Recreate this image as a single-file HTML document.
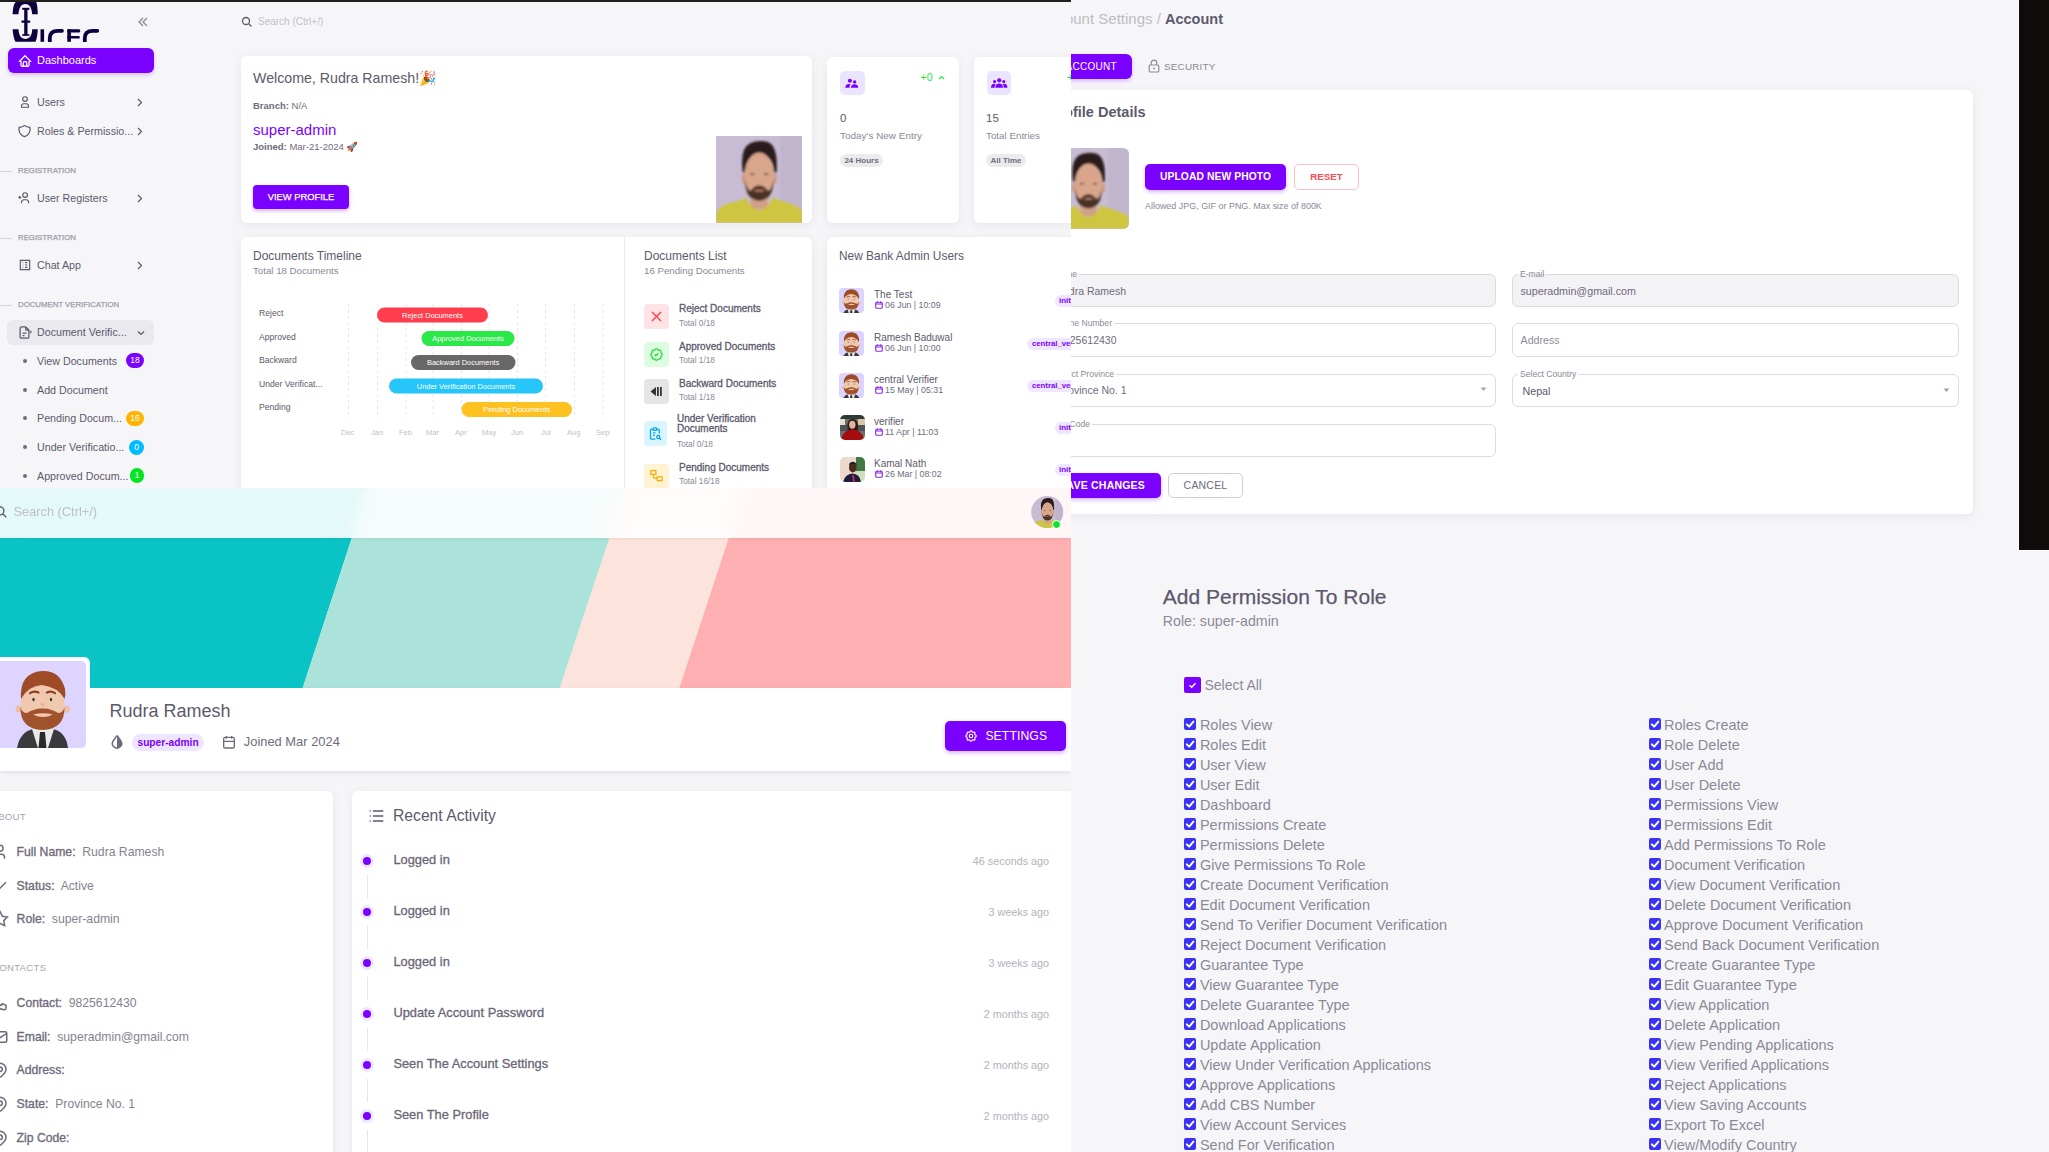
<!DOCTYPE html>
<html><head><meta charset="utf-8">
<style>
*{box-sizing:border-box;margin:0;padding:0}
html,body{width:2049px;height:1152px;overflow:hidden;background:#f6f6f9;font-family:"Liberation Sans",sans-serif;color:#6f6b7d}
.p{position:absolute;overflow:hidden}
.a{position:absolute;white-space:nowrap}
.card{position:absolute;background:#fff;border-radius:6px;box-shadow:0 2px 10px rgba(75,70,92,.085)}
#tl{left:0;top:0;width:1071px;height:488px;background:#f6f6f9}
#tr{left:1071px;top:0;width:978px;height:551px;background:#f6f6f9}
#bl{left:0;top:488px;width:1071px;height:664px;background:#f6f6f9}
#br{left:1071px;top:551px;width:978px;height:601px;background:#f6f6f9}
.purple{background:#7a00ff}
</style></head><body>
<svg width="0" height="0" style="position:absolute"><defs>
  <symbol id="av3d" viewBox="0 0 25 25">
    <rect width="25" height="25" rx="4" fill="#ddd3ff"/>
    <svg x="0" y="0" width="25" height="25" viewBox="0 0 25 25"><use href="#av3dbig" x="-2.6" y="-2.2" width="30" height="30"/></svg>
  </symbol>
  <filter id="pblur2" x="-10%" y="-10%" width="120%" height="120%"><feGaussianBlur stdDeviation="0.4"/></filter>
  <filter id="pblur" x="-10%" y="-10%" width="120%" height="120%"><feGaussianBlur stdDeviation="1.4"/></filter>
  <symbol id="photo" viewBox="0 0 100 100" preserveAspectRatio="none">
    <rect width="100" height="100" fill="#c8bcd5"/>
    <g filter="url(#pblur)">
    <rect x="74" width="26" height="100" fill="#bcafca" opacity=".6"/>
    <path d="M31 42 Q27 14 40 8 Q50 4 60 7 Q72 12 70 42 L67 42 Q66 22 50 21 Q35 22 34 42z" fill="#2a1f1b"/>
    <ellipse cx="32.5" cy="49" rx="2.8" ry="6" fill="#cf9a80"/>
    <ellipse cx="67.5" cy="49" rx="2.8" ry="6" fill="#cf9a80"/>
    <path d="M40 64 L40 84 L60 84 L60 64z" fill="#d2a086"/>
    <ellipse cx="50" cy="46" rx="17" ry="27" fill="#d9a68b"/>
    <path d="M33.5 50 Q34 70 44 73 Q50 76 56 73 Q66 70 66.5 50 Q64 62 60 63 Q56 57 50 57 Q44 57 40 63 Q36 62 33.5 50z" fill="#4b3328"/>
    <path d="M43 63 Q50 60 57 63 Q50 65 43 63z" fill="#b88068"/>
    <ellipse cx="42" cy="44" rx="3" ry="1.2" fill="#6d5b52"/>
    <ellipse cx="58" cy="44" rx="3" ry="1.2" fill="#6d5b52"/>
    <path d="M0 100 L0 90 Q3 80 16 77 Q30 74 35 71 Q40 84 50 85 Q60 84 65 71 Q72 73 84 77 Q97 81 100 86 L100 100z" fill="#cec53f"/>
    </g>
  </symbol>
  <symbol id="av3dbig" viewBox="0 0 86 87">
    <path d="M17 87 Q20 71 33 68 L53 68 Q66 71 68 87z" fill="#3a3a3d"/>
    <path d="M32 68 L38 87 L48 87 L54 68z" fill="#e9e9ea"/>
    <path d="M40 71 L38.5 87 L46.5 87 L45 71z" fill="#2a2a2c"/>
    <ellipse cx="18.5" cy="48" rx="3" ry="3.5" fill="#edbfa4"/>
    <ellipse cx="67" cy="48" rx="3" ry="3.5" fill="#edbfa4"/>
    <ellipse cx="42.5" cy="44" rx="22" ry="24" fill="#f0c8ae"/>
    <path d="M20.5 46 Q20 68 42.5 69 Q65 68 64.5 46 Q63 52 58 52 Q50 47 42.5 47.5 Q35 47 27 52 Q22 52 20.5 46z" fill="#a0522d"/>
    <path d="M33 53.5 Q43 51 53 53.5 Q43 58.5 33 53.5z" fill="#f3c7b0"/>
    <path d="M21 38 Q19 12 42 10 Q60 9 65 28 Q66 34 64.5 38 Q58 26 42 24 Q28 25 21 38z" fill="#9e4c27"/>
    <path d="M30 32 Q34 29.5 38.5 31.5 M47 31.5 Q51 29.5 55 32" fill="none" stroke="#8c4020" stroke-width="2.2" stroke-linecap="round"/>
    <ellipse cx="33.5" cy="38.5" rx="1.1" ry="1.8" fill="#2b2b3a"/>
    <ellipse cx="51" cy="38.5" rx="1.1" ry="1.8" fill="#2b2b3a"/>
    <ellipse cx="42.5" cy="43.5" rx="2" ry="1.6" fill="#e6b196"/>
  </symbol>
</defs></svg>

<!-- ============ TOP LEFT: dashboard ============ -->
<div class="p" id="tl">
  <div class="a" style="left:0;top:0;width:1071px;height:2px;background:#1f1f1f"></div>
  <!-- sidebar -->
  <svg class="a" style="left:0;top:0" width="110" height="42" viewBox="0 0 110 42">
    <g fill="#0e003e">
      <path d="M12.6 14.2 C13 6 14.5 2.5 16 2 L36 2 C37 3 37.6 7 37.8 14.2 L32.2 14.2 C31.8 8 29.5 4.1 25.3 4.1 C21 4.1 18.9 8 18.5 14.2 Z"/>
      <path d="M12.6 29.3 L18.5 29.3 C18.8 35.5 21.3 39 25.3 39 C29.5 39 32 35.5 32.2 29.3 L37.8 29.3 C37.5 35 36.8 39 35.5 41.8 L15.5 41.8 C14 39 13 35 12.6 29.3 Z"/>
      <rect x="24.2" y="8.2" width="3.3" height="27"/>
      <rect x="22.2" y="7.8" width="7.2" height="2"/>
      <rect x="21.3" y="20.6" width="9" height="2.2" rx="1"/>
      <rect x="22.2" y="34.2" width="7.2" height="1.6"/>
      <rect x="40.5" y="29.3" width="3.6" height="12.5"/>
    </g>
    <g fill="none" stroke="#0e003e" stroke-width="3.8" stroke-linecap="round">
      <path d="M62 30.8 L58 30.8 C52 30.8 49.8 34 49.8 38 L49.8 43"/>
      <path d="M97.3 30.8 L93 30.8 C87 30.8 84.8 34 84.8 38 L84.8 43"/>
    </g>
    <g fill="#0e003e">
      <rect x="67.3" y="29.3" width="3.6" height="12.5"/>
      <rect x="67.3" y="29.3" width="12.9" height="3.2" rx="1.3"/>
      <rect x="67.3" y="36.1" width="12.5" height="2.5" rx="1.2"/>
    </g>
  </svg>
  <svg class="a" style="left:137px;top:17px" width="12" height="10" viewBox="0 0 12 10"><path d="M6 1 L2 5 L6 9 M10 1 L6 5 L10 9" fill="none" stroke="#8b8997" stroke-width="1.3"/></svg>

  <div class="a purple" style="left:8px;top:48px;width:146px;height:25px;border-radius:6px;box-shadow:0 2px 4px rgba(122,0,255,.25)"></div>
  <svg class="a" style="left:18px;top:54px" width="14" height="14" viewBox="0 0 24 24"><path d="M5 12H3l9-9 9 9h-2M5 12v7a2 2 0 0 0 2 2h10a2 2 0 0 0 2-2v-7M9 21v-6a2 2 0 0 1 2-2h2a2 2 0 0 1 2 2v6" fill="none" stroke="#fff" stroke-width="2.2"/></svg>
  <div class="a" style="left:37px;top:50px;line-height:20px;font-size:11px;color:#fff">Dashboards</div>

  <svg class="a" style="left:18px;top:95px" width="14" height="14" viewBox="0 0 24 24"><path d="M8 7a4 4 0 1 0 8 0a4 4 0 0 0-8 0M6 21v-2a4 4 0 0 1 4-4h4a4 4 0 0 1 4 4v2z" fill="none" stroke="#5d596c" stroke-width="2"/></svg>
  <div class="a" style="left:37px;top:92px;line-height:20px;font-size:10.7px;color:#5d596c">Users</div>
  <svg class="a" style="left:137px;top:98px" width="6" height="9" viewBox="0 0 6 9"><path d="M1 1l3.5 3.5L1 8" fill="none" stroke="#5d596c" stroke-width="1.2"/></svg>

  <svg class="a" style="left:17px;top:123px" width="15" height="16" viewBox="0 0 24 24"><path d="M12 3a12 12 0 0 0 8.5 3A12 12 0 0 1 12 21A12 12 0 0 1 3.5 6A12 12 0 0 0 12 3" fill="none" stroke="#5d596c" stroke-width="2"/></svg>
  <div class="a" style="left:37px;top:121px;line-height:20px;font-size:10.7px;color:#5d596c">Roles &amp; Permissio...</div>
  <svg class="a" style="left:137px;top:127px" width="6" height="9" viewBox="0 0 6 9"><path d="M1 1l3.5 3.5L1 8" fill="none" stroke="#5d596c" stroke-width="1.2"/></svg>

  <div class="a" style="left:0;top:171px;width:12px;height:1px;background:#d6d5da"></div>
  <div class="a" style="left:18px;top:164px;line-height:14px;font-size:7.8px;color:#9e9ca8;-webkit-text-stroke:.25px #9e9ca8">REGISTRATION</div>

  <svg class="a" style="left:17px;top:191px" width="15" height="14" viewBox="0 0 24 24"><path d="M9 7a4 4 0 1 0 8 0a4 4 0 0 0-8 0M7 21v-2a4 4 0 0 1 4-4h4a4 4 0 0 1 4 4v2M1.5 11h5M4 8.5v5" fill="none" stroke="#5d596c" stroke-width="2"/></svg>
  <div class="a" style="left:37px;top:188px;line-height:20px;font-size:10.7px;color:#5d596c">User Registers</div>
  <svg class="a" style="left:137px;top:194px" width="6" height="9" viewBox="0 0 6 9"><path d="M1 1l3.5 3.5L1 8" fill="none" stroke="#5d596c" stroke-width="1.2"/></svg>

  <div class="a" style="left:0;top:238px;width:12px;height:1px;background:#d6d5da"></div>
  <div class="a" style="left:18px;top:231px;line-height:14px;font-size:7.8px;color:#9e9ca8;-webkit-text-stroke:.25px #9e9ca8">REGISTRATION</div>

  <svg class="a" style="left:18px;top:258px" width="14" height="14" viewBox="0 0 24 24"><path d="M4 4h16v16H4zM8 8h1M8 12h1M8 16h1M12 8h4M12 12h4M12 16h4" fill="none" stroke="#5d596c" stroke-width="2"/></svg>
  <div class="a" style="left:37px;top:255px;line-height:20px;font-size:10.7px;color:#5d596c">Chat App</div>
  <svg class="a" style="left:137px;top:261px" width="6" height="9" viewBox="0 0 6 9"><path d="M1 1l3.5 3.5L1 8" fill="none" stroke="#5d596c" stroke-width="1.2"/></svg>

  <div class="a" style="left:0;top:305px;width:12px;height:1px;background:#d6d5da"></div>
  <div class="a" style="left:18px;top:298px;line-height:14px;font-size:7.8px;color:#9e9ca8;-webkit-text-stroke:.25px #9e9ca8">DOCUMENT VERIFICATION</div>

  <div class="a" style="left:7px;top:320px;width:147px;height:25px;border-radius:6px;background:#eae9ee"></div>
  <svg class="a" style="left:16.5px;top:325px" width="15" height="15" viewBox="0 0 24 24"><path d="M14 3v4a1 1 0 0 0 1 1h4M17 21H7a2 2 0 0 1-2-2V5a2 2 0 0 1 2-2h7l5 5v11a2 2 0 0 1-2 2zM9 13h6M9 17h3M22 9v4" fill="none" stroke="#5d596c" stroke-width="2"/></svg>
  <div class="a" style="left:37px;top:322px;line-height:20px;font-size:10.7px;color:#5d596c">Document Verific...</div>
  <svg class="a" style="left:137px;top:330px" width="8" height="6" viewBox="0 0 8 6"><path d="M1 1.5l3 3 3-3" fill="none" stroke="#5d596c" stroke-width="1.2"/></svg>

  <div class="a" style="left:23px;top:359px;width:4px;height:4px;border-radius:2px;background:#6f6b7d"></div>
  <div class="a" style="left:37px;top:351px;line-height:20px;font-size:10.7px;color:#5d596c">View Documents</div>
  <div class="a" style="left:126px;top:353px;width:18px;height:15px;border-radius:8px;background:#7a00ff;color:#fff;font-size:8.5px;line-height:15px;text-align:center">18</div>

  <div class="a" style="left:23px;top:388px;width:4px;height:4px;border-radius:2px;background:#6f6b7d"></div>
  <div class="a" style="left:37px;top:380px;line-height:20px;font-size:10.7px;color:#5d596c">Add Document</div>

  <div class="a" style="left:23px;top:416px;width:4px;height:4px;border-radius:2px;background:#6f6b7d"></div>
  <div class="a" style="left:37px;top:408px;line-height:20px;font-size:10.7px;color:#5d596c">Pending Docum...</div>
  <div class="a" style="left:126px;top:411px;width:18px;height:15px;border-radius:8px;background:#ffb400;color:#fff;font-size:8.5px;line-height:15px;text-align:center">16</div>

  <div class="a" style="left:23px;top:445px;width:4px;height:4px;border-radius:2px;background:#6f6b7d"></div>
  <div class="a" style="left:37px;top:437px;line-height:20px;font-size:10.7px;color:#5d596c">Under Verificatio...</div>
  <div class="a" style="left:129px;top:440px;width:15px;height:15px;border-radius:8px;background:#00bbff;color:#fff;font-size:8.5px;line-height:15px;text-align:center">0</div>

  <div class="a" style="left:23px;top:474px;width:4px;height:4px;border-radius:2px;background:#6f6b7d"></div>
  <div class="a" style="left:37px;top:466px;line-height:20px;font-size:10.7px;color:#5d596c">Approved Docum...</div>
  <div class="a" style="left:130px;top:468px;width:14px;height:15px;border-radius:8px;background:#00e620;color:#fff;font-size:8.5px;line-height:15px;text-align:center">1</div>

  <!-- navbar search -->
  <svg class="a" style="left:241px;top:16px" width="12" height="12" viewBox="0 0 24 24"><path d="M3 10a7 7 0 1 0 14 0a7 7 0 1 0-14 0M21 21l-6-6" fill="none" stroke="#5d596c" stroke-width="2.6"/></svg>
  <div class="a" style="left:258px;top:13px;line-height:18px;font-size:10px;color:#c3c1ca">Search (Ctrl+/)</div>

  <!-- welcome card -->
  <div class="card" style="left:241px;top:56px;width:571px;height:167px"></div>
  <div class="a" style="left:253px;top:68px;line-height:20px;font-size:14.2px;color:#5d596c">Welcome, Rudra Ramesh!🎉</div>
  <div class="a" style="left:253px;top:99px;line-height:14px;font-size:9.5px;color:#6f6b7d"><b>Branch:</b> N/A</div>
  <div class="a" style="left:253px;top:120px;line-height:20px;font-size:15px;color:#7a00ff">super-admin</div>
  <div class="a" style="left:253px;top:140px;line-height:14px;font-size:9.5px;color:#6f6b7d"><b>Joined:</b> Mar-21-2024 🚀</div>
  <div class="a purple" style="left:253px;top:185px;width:96px;height:24px;border-radius:4px;box-shadow:0 2px 4px rgba(122,0,255,.3);color:#fff;font-size:9.4px;line-height:24px;text-align:center;-webkit-text-stroke:.25px #fff">VIEW PROFILE</div>
  <svg class="a" style="left:715.5px;top:135.5px" width="86.5" height="87" viewBox="0 0 86.5 87"><use href="#photo" width="86.5" height="87"/></svg>

  <!-- stat cards -->
  <div class="card" style="left:827px;top:57px;width:132px;height:166px"></div>
  <div class="a" style="left:840px;top:70.5px;width:24.5px;height:24.5px;border-radius:5px;background:#ebe4ff"></div>
  <svg class="a" style="left:840px;top:70.5px" width="24" height="24" viewBox="840 70.5 24 24"><g fill="#7a00ff"><circle cx="849.9" cy="80.3" r="2"/><circle cx="854.6" cy="81.4" r="1.7"/><path d="M845.3 87.3 Q845.3 83.5 849 83.5 L850.6 83.5 Q849.3 85 849.6 87.3z"/><path d="M850.9 87.3 Q851 83.7 854.6 83.7 Q858.2 83.7 858.2 87.3z"/></g></svg>
  <div class="a" style="left:920.5px;top:70px;line-height:14px;font-size:10.5px;color:#1ee83c">+0</div>
  <svg class="a" style="left:937.5px;top:74.5px" width="7" height="5" viewBox="0 0 7 5"><path d="M1 4L3.5 1.5 6 4" fill="none" stroke="#1ee83c" stroke-width="1.2"/></svg>
  <div class="a" style="left:840px;top:109px;line-height:18px;font-size:11.5px;color:#5d596c">0</div>
  <div class="a" style="left:840px;top:129px;line-height:14px;font-size:9.95px;color:#8b8997">Today's New Entry</div>
  <div class="a" style="left:840px;top:154px;width:43px;height:13px;border-radius:7px;background:#ebebee;color:#6f6b7d;font-size:8px;font-weight:bold;line-height:13px;text-align:center">24 Hours</div>

  <div class="card" style="left:974px;top:57px;width:132px;height:166px"></div>
  <div class="a" style="left:986.5px;top:70.5px;width:24.5px;height:24.5px;border-radius:5px;background:#ebe4ff"></div>
  <svg class="a" style="left:986.5px;top:70.5px" width="24" height="24" viewBox="0 0 24 24"><g fill="#7a00ff"><circle cx="12.2" cy="9.3" r="2.1"/><circle cx="7.6" cy="10.5" r="1.6"/><circle cx="16.8" cy="10.5" r="1.6"/><path d="M8.4 16.8 Q8.4 12.6 12.2 12.6 Q16 12.6 16 16.8z"/><path d="M4 16.8 Q4 12.8 7.3 12.8 Q8 12.8 8.6 13.1 Q7.6 14.5 7.6 16.8z"/><path d="M20.4 16.8 Q20.4 12.8 17.1 12.8 Q16.4 12.8 15.8 13.1 Q16.8 14.5 16.8 16.8z"/></g></svg>
  <div class="a" style="left:1067px;top:70px;line-height:14px;font-size:10.5px;color:#1ee83c">+0</div>
  <div class="a" style="left:986px;top:109px;line-height:18px;font-size:11.5px;color:#5d596c">15</div>
  <div class="a" style="left:986px;top:129px;line-height:14px;font-size:9.8px;color:#8b8997">Total Entries</div>
  <div class="a" style="left:986px;top:154px;width:40px;height:13px;border-radius:7px;background:#ebebee;color:#6f6b7d;font-size:8px;font-weight:bold;line-height:13px;text-align:center">All Time</div>

  <!-- timeline + list card -->
  <div class="card" style="left:241px;top:237px;width:571px;height:270px"></div>
  <div class="a" style="left:624px;top:237px;width:1px;height:260px;background:#ebeaed"></div>
  <div class="a" style="left:253px;top:248px;line-height:16px;font-size:12px;color:#5d596c">Documents Timeline</div>
  <div class="a" style="left:253px;top:264px;line-height:14px;font-size:9.7px;color:#8b8997">Total 18 Documents</div>

  <div class="a" style="left:644px;top:248px;line-height:16px;font-size:12px;color:#5d596c">Documents List</div>
  <div class="a" style="left:644px;top:264px;line-height:14px;font-size:9.7px;color:#8b8997">16 Pending Documents</div>

  <div class="card" style="left:827px;top:237px;width:300px;height:270px"></div>
  <div class="a" style="left:839px;top:248px;line-height:16px;font-size:11.9px;color:#5d596c">New Bank Admin Users</div>

  <!-- chart -->
  <div class="a" style="left:259px;top:306px;line-height:14px;font-size:8.6px;color:#5d596c">Reject</div>
  <div class="a" style="left:259px;top:330px;line-height:14px;font-size:8.6px;color:#5d596c">Approved</div>
  <div class="a" style="left:259px;top:353px;line-height:14px;font-size:8.6px;color:#5d596c">Backward</div>
  <div class="a" style="left:259px;top:377px;line-height:14px;font-size:8.6px;color:#5d596c">Under Verificat...</div>
  <div class="a" style="left:259px;top:400px;line-height:14px;font-size:8.6px;color:#5d596c">Pending</div>
  <svg class="a" style="left:340px;top:300px" width="280" height="125" viewBox="340 300 280 125">
    <g stroke="#e8e7eb" stroke-width="1" stroke-dasharray="3 3">
      <path d="M348.5 304V419M377.5 304V419M406 304V419M433 304V419M461.5 304V419M489 304V419M517.5 304V419M545.5 304V419M574.5 304V419M603 304V419"/>
    </g>
    <rect x="377" y="307.5" width="111" height="15" rx="7.5" fill="#ff3d4d"/>
    <rect x="421.5" y="331" width="93" height="15" rx="7.5" fill="#29e848"/>
    <rect x="411" y="355" width="104.5" height="15" rx="7.5" fill="#686868"/>
    <rect x="389" y="378.5" width="154" height="15" rx="7.5" fill="#26c5fa"/>
    <rect x="461.5" y="402" width="110.5" height="15" rx="7.5" fill="#fdc122"/>
    <g fill="#fff" font-family="Liberation Sans" font-size="7.45" text-anchor="middle">
      <text x="432.5" y="317.6">Reject Documents</text>
      <text x="468" y="341.1">Approved Documents</text>
      <text x="463.2" y="365.1">Backward Documents</text>
      <text x="466" y="388.6">Under Verification Documents</text>
      <text x="516.7" y="412.1">Pending Documents</text>
    </g>
  </svg>
  <div class="a" style="left:340px;top:426px;width:280px;height:14px;font-size:7.5px;color:#c2c0c8;line-height:14px">
    <span class="a" style="left:1px">Dec</span><span class="a" style="left:31px">Jan</span><span class="a" style="left:59px">Feb</span><span class="a" style="left:86px">Mar</span><span class="a" style="left:115px">Apr</span><span class="a" style="left:142px">May</span><span class="a" style="left:171px">Jun</span><span class="a" style="left:201px">Jul</span><span class="a" style="left:227px">Aug</span><span class="a" style="left:256px">Sep</span>
  </div>

  <!-- documents list -->
  <div class="a" style="left:644px;top:304px;width:25px;height:25px;border-radius:4px;background:#ffe2e4"></div>
  <svg class="a" style="left:651px;top:311px" width="11" height="11" viewBox="0 0 11 11"><path d="M1 1L10 10M10 1L1 10" stroke="#ff3a4a" stroke-width="1.4"/></svg>
  <div class="a" style="left:679px;top:302px;line-height:14px;font-size:10px;color:#5d596c;-webkit-text-stroke:.3px #5d596c">Reject Documents</div>
  <div class="a" style="left:679px;top:316px;line-height:14px;font-size:8.3px;color:#8b8997">Total 0/18</div>

  <div class="a" style="left:644px;top:342px;width:25px;height:25px;border-radius:4px;background:#ddfde1"></div>
  <svg class="a" style="left:649px;top:347px" width="15" height="15" viewBox="0 0 24 24"><path d="M5 7.2A2.2 2.2 0 0 1 7.2 5h1a2.2 2.2 0 0 0 1.55-.64l.7-.7a2.2 2.2 0 0 1 3.12 0l.7.7c.41.41.97.64 1.55.64h1a2.2 2.2 0 0 1 2.2 2.2v1c0 .58.23 1.14.64 1.55l.7.7a2.2 2.2 0 0 1 0 3.12l-.7.7a2.2 2.2 0 0 0-.64 1.55v1a2.2 2.2 0 0 1-2.2 2.2h-1a2.2 2.2 0 0 0-1.55.64l-.7.7a2.2 2.2 0 0 1-3.12 0l-.7-.7A2.2 2.2 0 0 0 8.2 19h-1A2.2 2.2 0 0 1 5 16.8v-1a2.2 2.2 0 0 0-.64-1.55l-.7-.7a2.2 2.2 0 0 1 0-3.12l.7-.7A2.2 2.2 0 0 0 5 8.2zM9 12l2 2 4-4" fill="none" stroke="#1fd83a" stroke-width="2"/></svg>
  <div class="a" style="left:679px;top:340px;line-height:14px;font-size:10px;color:#5d596c;-webkit-text-stroke:.3px #5d596c">Approved Documents</div>
  <div class="a" style="left:679px;top:353px;line-height:14px;font-size:8.3px;color:#8b8997">Total 1/18</div>

  <div class="a" style="left:644px;top:379px;width:25px;height:25px;border-radius:4px;background:#e5e5e6"></div>
  <svg class="a" style="left:650px;top:386px" width="14" height="11" viewBox="0 0 14 11"><path d="M0.5 5.5L6 1V10z" fill="#333"/><rect x="7" y="1" width="1.8" height="9" fill="#333"/><rect x="10" y="1" width="1.8" height="9" fill="#333"/></svg>
  <div class="a" style="left:679px;top:377px;line-height:14px;font-size:10px;color:#5d596c;-webkit-text-stroke:.3px #5d596c">Backward Documents</div>
  <div class="a" style="left:679px;top:390px;line-height:14px;font-size:8.3px;color:#8b8997">Total 1/18</div>

  <div class="a" style="left:644px;top:421px;width:23px;height:25px;border-radius:4px;background:#daf5ff"></div>
  <svg class="a" style="left:648px;top:426px" width="15" height="15" viewBox="0 0 24 24"><path d="M8 5H6a2 2 0 0 0-2 2v12a2 2 0 0 0 2 2h5.7M18 12V7a2 2 0 0 0-2-2h-2M8 5a2 2 0 0 1 2-2h2a2 2 0 0 1 2 2v0a2 2 0 0 1-2 2h-2a2 2 0 0 1-2-2zM8 11h4M8 15h3M14 17.5a2.5 2.5 0 1 0 5 0a2.5 2.5 0 1 0-5 0M18.5 19.5L21 22" fill="none" stroke="#00a3e8" stroke-width="2"/></svg>
  <div class="a" style="left:677px;top:414px;line-height:10px;font-size:10px;color:#5d596c;-webkit-text-stroke:.3px #5d596c">Under Verification<br>Documents</div>
  <div class="a" style="left:677px;top:437px;line-height:14px;font-size:8.3px;color:#8b8997">Total 0/18</div>

  <div class="a" style="left:644px;top:464px;width:25px;height:25px;border-radius:4px;background:#fff3d4"></div>
  <svg class="a" style="left:649px;top:468px" width="15" height="15" viewBox="0 0 24 24"><path d="M3 4h8v6H3zM13 14h8v6h-8zM7 10v4a2 2 0 0 0 2 2h4" fill="none" stroke="#f5ad00" stroke-width="2"/></svg>
  <div class="a" style="left:679px;top:461px;line-height:14px;font-size:10px;color:#5d596c;-webkit-text-stroke:.3px #5d596c">Pending Documents</div>
  <div class="a" style="left:679px;top:474px;line-height:14px;font-size:8.3px;color:#8b8997">Total 16/18</div>
<svg class="a" style="left:839px;top:288px" width="25" height="25" viewBox="0 0 25 25"><use href="#av3d"/></svg>
  <div class="a" style="left:874px;top:288px;line-height:14px;font-size:10px;color:#5d596c">The Test</div>
  <svg class="a" style="left:875px;top:301px" width="8" height="8" viewBox="0 0 8 8"><rect x="0.7" y="1.3" width="6.6" height="6" rx="1" fill="none" stroke="#8a2be2" stroke-width="1.1"/><path d="M0.7 3h6.6M2.3 0.3v2M5.7 0.3v2" stroke="#8a2be2" stroke-width="1"/></svg>
  <div class="a" style="left:885px;top:298px;line-height:14px;font-size:8.8px;color:#6f6b7d">06 Jun | 10:09</div>
  <div class="a" style="left:1055px;top:295px;width:40px;height:12px;border-radius:6px;background:#efe6ff;color:#7a00ff;font-size:8px;font-weight:bold;line-height:12px;padding-left:4px">init</div>
<svg class="a" style="left:839px;top:331px" width="25" height="25" viewBox="0 0 25 25"><use href="#av3d"/></svg>
  <div class="a" style="left:874px;top:331px;line-height:14px;font-size:10px;color:#5d596c">Ramesh Baduwal</div>
  <svg class="a" style="left:875px;top:344px" width="8" height="8" viewBox="0 0 8 8"><rect x="0.7" y="1.3" width="6.6" height="6" rx="1" fill="none" stroke="#8a2be2" stroke-width="1.1"/><path d="M0.7 3h6.6M2.3 0.3v2M5.7 0.3v2" stroke="#8a2be2" stroke-width="1"/></svg>
  <div class="a" style="left:885px;top:341px;line-height:14px;font-size:8.8px;color:#6f6b7d">06 Jun | 10:00</div>
  <div class="a" style="left:1027px;top:338px;width:80px;height:12px;border-radius:6px;background:#efe6ff;color:#7a00ff;font-size:7.75px;font-weight:bold;line-height:12px;padding-left:5px">central_verifier</div>
<svg class="a" style="left:839px;top:373px" width="25" height="25" viewBox="0 0 25 25"><use href="#av3d"/></svg>
  <div class="a" style="left:874px;top:373px;line-height:14px;font-size:10px;color:#5d596c">central Verifier</div>
  <svg class="a" style="left:875px;top:386px" width="8" height="8" viewBox="0 0 8 8"><rect x="0.7" y="1.3" width="6.6" height="6" rx="1" fill="none" stroke="#8a2be2" stroke-width="1.1"/><path d="M0.7 3h6.6M2.3 0.3v2M5.7 0.3v2" stroke="#8a2be2" stroke-width="1"/></svg>
  <div class="a" style="left:885px;top:383px;line-height:14px;font-size:8.8px;color:#6f6b7d">15 May | 05:31</div>
  <div class="a" style="left:1027px;top:380px;width:80px;height:12px;border-radius:6px;background:#efe6ff;color:#7a00ff;font-size:7.75px;font-weight:bold;line-height:12px;padding-left:5px">central_verifier</div>
<svg class="a" style="left:839.6px;top:415px" width="25" height="25" viewBox="0 0 25 25"><defs><clipPath id="vclip"><rect width="25" height="25" rx="5"/></clipPath></defs><g clip-path="url(#vclip)" filter="url(#pblur2)"><rect width="25" height="25" fill="#6d6e70"/><rect width="25" height="4" fill="#2d3a36"/><rect x="0" y="4" width="5" height="6" fill="#e8e0c8"/><rect x="18" y="4" width="7" height="6" fill="#d8c8a8"/><rect x="0" y="10" width="25" height="6" fill="#4e5254"/><path d="M7.5 12 Q7 4 12.5 4 Q18 4 18 12 L17 17 L8 17z" fill="#2a1a14"/><ellipse cx="12.3" cy="9.8" rx="3.2" ry="4" fill="#e0b49a"/><path d="M1.5 25 Q2 15 12.5 14.5 Q23 15 23.5 25z" fill="#a4070f"/></g></svg>
  <div class="a" style="left:874px;top:415px;line-height:14px;font-size:10px;color:#5d596c">verifier</div>
  <svg class="a" style="left:875px;top:428px" width="8" height="8" viewBox="0 0 8 8"><rect x="0.7" y="1.3" width="6.6" height="6" rx="1" fill="none" stroke="#8a2be2" stroke-width="1.1"/><path d="M0.7 3h6.6M2.3 0.3v2M5.7 0.3v2" stroke="#8a2be2" stroke-width="1"/></svg>
  <div class="a" style="left:885px;top:425px;line-height:14px;font-size:8.8px;color:#6f6b7d">11 Apr | 11:03</div>
  <div class="a" style="left:1055px;top:422px;width:40px;height:12px;border-radius:6px;background:#efe6ff;color:#7a00ff;font-size:8px;font-weight:bold;line-height:12px;padding-left:4px">init</div>
<svg class="a" style="left:839.6px;top:457px" width="25" height="25" viewBox="0 0 25 25"><defs><clipPath id="kclip"><rect width="25" height="25" rx="5"/></clipPath></defs><g clip-path="url(#kclip)" filter="url(#pblur2)"><rect width="25" height="25" fill="#eed8cc"/><rect x="16" y="0" width="9" height="25" fill="#3f7a42"/><rect x="15" y="14" width="10" height="11" fill="#cfe0c0"/><ellipse cx="12.8" cy="10.5" rx="3.8" ry="5" fill="#4a2a1c"/><path d="M9 7 Q12.8 2.5 16.6 7 L16.6 8 Q12.8 5 9 8z" fill="#1e1420"/><path d="M3 25 Q5 17 12.5 16.5 Q20 17 21 25z" fill="#1e1a3c"/><path d="M12 18 L13 25 L15 25 L14 18z" fill="#b0305a"/></g></svg>
  <div class="a" style="left:874px;top:457px;line-height:14px;font-size:10px;color:#5d596c">Kamal Nath</div>
  <svg class="a" style="left:875px;top:470px" width="8" height="8" viewBox="0 0 8 8"><rect x="0.7" y="1.3" width="6.6" height="6" rx="1" fill="none" stroke="#8a2be2" stroke-width="1.1"/><path d="M0.7 3h6.6M2.3 0.3v2M5.7 0.3v2" stroke="#8a2be2" stroke-width="1"/></svg>
  <div class="a" style="left:885px;top:467px;line-height:14px;font-size:8.8px;color:#6f6b7d">26 Mar | 08:02</div>
  <div class="a" style="left:1055px;top:464px;width:40px;height:12px;border-radius:6px;background:#efe6ff;color:#7a00ff;font-size:8px;font-weight:bold;line-height:12px;padding-left:4px">init</div>
</div>

<!-- ============ TOP RIGHT: account settings ============ -->
<div class="p" id="tr">
  <div class="a" style="right:826px;top:9px;line-height:20px;font-size:15px;color:#bebcc5">Account Settings / <span style="color:#5d596c;font-weight:bold;font-size:14.5px">Account</span></div>
  <div class="a purple" style="left:-40px;top:54px;width:101px;height:25px;border-radius:6px;box-shadow:0 2px 4px rgba(122,0,255,.25)"></div>
  <div class="a" style="right:932px;top:57px;line-height:20px;font-size:10px;color:#fff;letter-spacing:.3px">ACCOUNT</div>
  <svg class="a" style="left:77px;top:59px" width="12" height="14" viewBox="0 0 12 14"><rect x="1.2" y="6" width="9.6" height="7" rx="1.3" fill="none" stroke="#8b8997" stroke-width="1.2"/><path d="M3.2 6V4a2.8 2.8 0 0 1 5.6 0v2" fill="none" stroke="#8b8997" stroke-width="1.2"/><circle cx="6" cy="9.5" r=".9" fill="#8b8997"/></svg>
  <div class="a" style="left:93px;top:57px;line-height:20px;font-size:9.9px;color:#8b8997;letter-spacing:.2px">SECURITY</div>

  <div class="card" style="left:-40px;top:90px;width:942px;height:424px"></div>
  <div class="a" style="right:903.5px;top:102px;line-height:20px;font-size:14.5px;font-weight:bold;color:#5d596c">Profile Details</div>
  <svg class="a" style="left:-23px;top:148px" width="81" height="81" viewBox="0 0 81 81"><defs><clipPath id="trc"><rect width="81" height="81" rx="6"/></clipPath></defs><g clip-path="url(#trc)"><use href="#photo" width="81" height="81"/></g></svg>
  <div class="a purple" style="left:74px;top:164px;width:141px;height:26px;border-radius:5px;box-shadow:0 2px 4px rgba(122,0,255,.3);color:#fff;font-size:10.3px;font-weight:bold;line-height:26px;text-align:center;letter-spacing:.1px">UPLOAD NEW PHOTO</div>
  <div class="a" style="left:223px;top:164px;width:65px;height:26px;border-radius:5px;border:1px solid #ffbec1;color:#ff4c55;font-size:9.8px;font-weight:bold;line-height:24px;text-align:center">RESET</div>
  <div class="a" style="left:74px;top:199px;line-height:14px;font-size:8.95px;color:#8b8997">Allowed JPG, GIF or PNG. Max size of 800K</div>
  <div class="a" style="left:-41px;top:274px;width:466px;height:33px;border-radius:6px;border:1px solid #dcdbe0;background:#f3f2f5"></div>
  <div class="a" style="right:970px;top:267px;line-height:14px;font-size:8.6px;color:#8b8997;background:linear-gradient(180deg,#fff 50%,#f3f2f5 50%);padding:0 2px">Name</div>
  <div class="a" style="right:923px;top:280.5px;line-height:20px;font-size:10.5px;color:#6f6b7d">Rudra Ramesh</div>
  <div class="a" style="left:441px;top:274px;width:447px;height:33px;border-radius:6px;border:1px solid #dcdbe0;background:#f3f2f5"></div>
  <div class="a" style="left:447px;top:267px;line-height:14px;font-size:8.6px;color:#8b8997;background:linear-gradient(180deg,#fff 50%,#f3f2f5 50%);padding:0 2px">E-mail</div>
  <div class="a" style="left:449.5px;top:280.5px;line-height:20px;font-size:10.7px;color:#6f6b7d">superadmin@gmail.com</div>
  <div class="a" style="left:-41px;top:323px;width:466px;height:34px;border-radius:6px;border:1px solid #dcdbe0;background:#fff"></div>
  <div class="a" style="right:935px;top:316px;line-height:14px;font-size:8.6px;color:#8b8997;background:linear-gradient(180deg,#fff 50%,#fff 50%);padding:0 2px">Phone Number</div>
  <div class="a" style="right:932.5px;top:330.0px;line-height:20px;font-size:10.5px;color:#6f6b7d">9825612430</div>
  <div class="a" style="left:441px;top:323px;width:447px;height:34px;border-radius:6px;border:1px solid #dcdbe0;background:#fff"></div>
  <div class="a" style="left:449.5px;top:330.0px;line-height:20px;font-size:10.7px;color:#8f8d99">Address</div>
  <div class="a" style="left:-41px;top:374px;width:466px;height:32.5px;border-radius:6px;border:1px solid #dcdbe0;background:#fff"></div>
  <div class="a" style="right:933px;top:367px;line-height:14px;font-size:8.6px;color:#8b8997;background:linear-gradient(180deg,#fff 50%,#fff 50%);padding:0 2px">Select Province</div>
  <div class="a" style="right:922.5px;top:380.25px;line-height:20px;font-size:10.5px;color:#6f6b7d">Province No. 1</div>
  <svg class="a" style="left:409px;top:387.25px" width="7" height="5" viewBox="0 0 7 5"><path d="M0.5 0.5h6L3.5 4z" fill="#a5a3ae"/></svg>
  <div class="a" style="left:441px;top:374px;width:447px;height:33px;border-radius:6px;border:1px solid #dcdbe0;background:#fff"></div>
  <div class="a" style="left:447px;top:367px;line-height:14px;font-size:8.6px;color:#8b8997;background:linear-gradient(180deg,#fff 50%,#fff 50%);padding:0 2px">Select Country</div>
  <div class="a" style="left:451.5px;top:380.5px;line-height:20px;font-size:10.7px;color:#5d596c">Nepal</div>
  <svg class="a" style="left:872px;top:387.5px" width="7" height="5" viewBox="0 0 7 5"><path d="M0.5 0.5h6L3.5 4z" fill="#a5a3ae"/></svg>
  <div class="a" style="left:-41px;top:424px;width:466px;height:32.5px;border-radius:6px;border:1px solid #dcdbe0;background:#fff"></div>
  <div class="a" style="right:957px;top:417px;line-height:14px;font-size:8.6px;color:#8b8997;background:linear-gradient(180deg,#fff 50%,#fff 50%);padding:0 2px">Zip Code</div>
  <div class="a purple" style="left:-40px;top:473px;width:130px;height:25px;border-radius:5px;box-shadow:0 2px 4px rgba(122,0,255,.3)"></div>
  <div class="a" style="right:904px;top:475px;line-height:20px;font-size:10.5px;font-weight:bold;color:#fff;letter-spacing:.2px">SAVE CHANGES</div>
  <div class="a" style="left:97px;top:473px;width:75px;height:25px;border-radius:5px;border:1px solid #cfced4;color:#6f6b7d;font-size:10.5px;line-height:23px;text-align:center;letter-spacing:.2px">CANCEL</div>
  <div class="a" style="left:947px;top:-1px;width:32px;height:552px;background:#fff"></div>
  <div class="a" style="left:948px;top:0;width:31px;height:550px;background:#0e0b0a"></div>
</div>

<!-- ============ BOTTOM LEFT: profile ============ -->
<div class="p" id="bl">
  <svg class="a" style="left:0;top:0" width="1071" height="201" viewBox="0 488 1071 201">
    <polygon points="0,488 368.2,488 302.6,688.2 0,688.2" fill="#0ac3c5"/>
    <polygon points="368.2,488 626,488 559.8,688.2 302.6,688.2" fill="#abe2d9"/>
    <polygon points="626,488 745.2,488 679.2,688.2 559.8,688.2" fill="#fce3dc"/>
    <polygon points="745.2,488 1071,488 1071,688.2 679.2,688.2" fill="#feafb1"/>
  </svg>
  <div class="a" style="left:0;top:0;width:1071px;height:49.5px;background:rgba(255,255,255,.89);backdrop-filter:blur(10px);-webkit-backdrop-filter:blur(10px);box-shadow:0 1px 3px rgba(0,0,0,.06)"></div>
  <svg class="a" style="left:-6px;top:17px" width="14" height="14" viewBox="0 0 24 24"><path d="M3 10a7 7 0 1 0 14 0a7 7 0 1 0-14 0M21 21l-6-6" fill="none" stroke="#5d596c" stroke-width="2.4"/></svg>
  <div class="a" style="left:13.5px;top:13.8px;line-height:20px;font-size:12.8px;color:#c0bec8">Search (Ctrl+/)</div>
  <svg class="a" style="left:1031px;top:8px" width="33" height="33" viewBox="0 0 33 33"><defs><clipPath id="cav"><circle cx="16.2" cy="16" r="16"/></clipPath></defs><g clip-path="url(#cav)"><use href="#photo" x="0" y="0" width="33" height="33"/></g></svg>
  <div class="a" style="left:1052px;top:32px;width:9px;height:9px;border-radius:5px;background:#12e12e;border:1.5px solid #fff"></div>

  <div class="a" style="left:0;top:200.2px;width:1071px;height:83px;background:#fff;box-shadow:0 2px 4px rgba(47,43,61,.10)"></div>
  <div class="a" style="left:-10px;top:168.60000000000002px;width:99.6px;height:95px;border-radius:6px;background:#fff"></div>
  <svg class="a" style="left:-10px;top:172.79999999999995px" width="96" height="87.2" viewBox="0 0 96 87.2"><rect width="96" height="87.2" rx="5" fill="#ddd4ff"/><use href="#av3dbig" x="10" y="0" width="86" height="87.2"/></svg>
  <div class="a" style="left:109.4px;top:210.60000000000002px;line-height:24px;font-size:18px;color:#5d596c">Rudra Ramesh</div>
  <svg class="a" style="left:108.5px;top:246.3px" width="16" height="16" viewBox="0 0 24 24"><path d="M7.5 19.4c2.6 2.1 6.4 2.1 9 0c2.6-2.1 3.3-5.7 1.6-8.5l-4.9-7.3c-.4-.6-1.3-.8-1.9-.4a1.4 1.4 0 0 0-.4.4l-4.9 7.3c-1.7 2.8-1 6.4 1.5 8.5z" fill="none" stroke="#6f6b7d" stroke-width="2.2"/><path d="M12 3 L12 21 C14.5 21 16.5 19.4 16.5 19.4 C19 17.3 19.7 13.7 18 10.9z" fill="#6f6b7d"/></svg>
  <div class="a" style="left:131.8px;top:245.79999999999995px;width:72.5px;height:17px;border-radius:9px;background:#eee6ff;color:#7a00ff;font-size:10.2px;font-weight:bold;line-height:17px;text-align:center">super-admin</div>
  <svg class="a" style="left:220.5px;top:245.8px" width="16" height="16" viewBox="0 0 24 24"><path d="M4 7a2 2 0 0 1 2-2h12a2 2 0 0 1 2 2v12a2 2 0 0 1-2 2H6a2 2 0 0 1-2-2zM16 3v4M8 3v4M4 11h16" fill="none" stroke="#6f6b7d" stroke-width="2"/></svg>
  <div class="a" style="left:243.8px;top:244.29999999999995px;line-height:20px;font-size:12.9px;color:#6f6b7d">Joined Mar 2024</div>
  <div class="a purple" style="left:945.4px;top:232.60000000000002px;width:120.4px;height:30.4px;border-radius:5px;box-shadow:0 2px 4px rgba(122,0,255,.3)"></div>
  <svg class="a" style="left:964px;top:240.79999999999995px" width="14" height="14" viewBox="0 0 24 24"><path d="M10.3 4.3c.4-1.8 3-1.8 3.4 0a1.7 1.7 0 0 0 2.6 1.1c1.5-.9 3.3.8 2.4 2.4a1.7 1.7 0 0 0 1 2.5c1.8.4 1.8 3 0 3.4a1.7 1.7 0 0 0-1 2.6c.9 1.5-.9 3.3-2.4 2.4a1.7 1.7 0 0 0-2.6 1c-.4 1.8-3 1.8-3.4 0a1.7 1.7 0 0 0-2.6-1c-1.5.9-3.3-.9-2.4-2.4a1.7 1.7 0 0 0-1-2.6c-1.8-.4-1.8-3 0-3.4a1.7 1.7 0 0 0 1-2.5c-.9-1.6.9-3.3 2.4-2.4a1.7 1.7 0 0 0 2.6-1.1M9 12a3 3 0 1 0 6 0a3 3 0 0 0-6 0" fill="none" stroke="#fff" stroke-width="2"/></svg>
  <div class="a" style="left:985.4px;top:237.79999999999995px;line-height:20px;font-size:12.2px;color:#fff;letter-spacing:.1px">SETTINGS</div>

  <div class="card" style="left:-20px;top:302.6px;width:352.7px;height:420px"></div>
  <div class="card" style="left:351.6px;top:302.6px;width:740px;height:420px"></div>
  <div class="a" style="right:1045px;top:321.1px;line-height:16px;font-size:9.6px;color:#a5a3ae;letter-spacing:.3px">ABOUT</div>
  <svg class="a" style="left:-9px;top:354.6px" width="18" height="18" viewBox="0 0 24 24"><path d="M8 7a4 4 0 1 0 8 0a4 4 0 0 0-8 0M6 21v-2a4 4 0 0 1 4-4h4a4 4 0 0 1 4 4v2" fill="none" stroke="#6f6b7d" stroke-width="2"/></svg>
  <div class="a" style="white-space:pre;left:16.6px;top:353.6px;line-height:20px;font-size:12.2px;color:#85828f"><b style="font-weight:normal;-webkit-text-stroke:.35px #6f6b7d;color:#6f6b7d">Full Name:</b>  Rudra Ramesh</div>
  <svg class="a" style="left:-9px;top:389.0px" width="18" height="18" viewBox="0 0 24 24"><path d="M5 12l5 5L20 7" fill="none" stroke="#6f6b7d" stroke-width="2"/></svg>
  <div class="a" style="white-space:pre;left:16.6px;top:388px;line-height:20px;font-size:12.2px;color:#85828f"><b style="font-weight:normal;-webkit-text-stroke:.35px #6f6b7d;color:#6f6b7d">Status:</b>  Active</div>
  <svg class="a" style="left:-9px;top:422.3px" width="18" height="18" viewBox="0 0 24 24"><path d="M12 17.75l-6.17 3.24 1.18-6.87-5-4.86 6.9-1L12 2l3.09 6.26 6.9 1-5 4.86 1.18 6.87z" fill="none" stroke="#6f6b7d" stroke-width="2"/></svg>
  <div class="a" style="white-space:pre;left:16.6px;top:421.29999999999995px;line-height:20px;font-size:12.2px;color:#85828f"><b style="font-weight:normal;-webkit-text-stroke:.35px #6f6b7d;color:#6f6b7d">Role:</b>  super-admin</div>
  <div class="a" style="right:1024.6px;top:472px;line-height:16px;font-size:9.6px;color:#a5a3ae;letter-spacing:.3px">CONTACTS</div>
  <svg class="a" style="left:-9px;top:506.2px" width="18" height="18" viewBox="0 0 24 24"><path d="M5 4h4l2 5-2.5 1.5a11 11 0 0 0 5 5L15 13l5 2v4a2 2 0 0 1-2 2A16 16 0 0 1 3 6a2 2 0 0 1 2-2" fill="none" stroke="#6f6b7d" stroke-width="2"/></svg>
  <div class="a" style="white-space:pre;left:16.6px;top:505.20000000000005px;line-height:20px;font-size:12.2px;color:#85828f"><b style="font-weight:normal;-webkit-text-stroke:.35px #6f6b7d;color:#6f6b7d">Contact:</b>  9825612430</div>
  <svg class="a" style="left:-9px;top:540.0px" width="18" height="18" viewBox="0 0 24 24"><path d="M3 7a2 2 0 0 1 2-2h14a2 2 0 0 1 2 2v10a2 2 0 0 1-2 2H5a2 2 0 0 1-2-2zM3 7l9 6 9-6" fill="none" stroke="#6f6b7d" stroke-width="2"/></svg>
  <div class="a" style="white-space:pre;left:16.6px;top:539px;line-height:20px;font-size:12.2px;color:#85828f"><b style="font-weight:normal;-webkit-text-stroke:.35px #6f6b7d;color:#6f6b7d">Email:</b>  superadmin@gmail.com</div>
  <svg class="a" style="left:-9px;top:573.2px" width="18" height="18" viewBox="0 0 24 24"><path d="M9 11a3 3 0 1 0 6 0a3 3 0 0 0-6 0M17.66 16.66L13.41 20.9a2 2 0 0 1-2.83 0l-4.24-4.24a8 8 0 1 1 11.32 0z" fill="none" stroke="#6f6b7d" stroke-width="2"/></svg>
  <div class="a" style="white-space:pre;left:16.6px;top:572.2px;line-height:20px;font-size:12.2px;color:#85828f"><b style="font-weight:normal;-webkit-text-stroke:.35px #6f6b7d;color:#6f6b7d">Address:</b></div>
  <svg class="a" style="left:-9px;top:607.3px" width="18" height="18" viewBox="0 0 24 24"><path d="M9 11a3 3 0 1 0 6 0a3 3 0 0 0-6 0M17.66 16.66L13.41 20.9a2 2 0 0 1-2.83 0l-4.24-4.24a8 8 0 1 1 11.32 0z" fill="none" stroke="#6f6b7d" stroke-width="2"/></svg>
  <div class="a" style="white-space:pre;left:16.6px;top:606.3px;line-height:20px;font-size:12.2px;color:#85828f"><b style="font-weight:normal;-webkit-text-stroke:.35px #6f6b7d;color:#6f6b7d">State:</b>  Province No. 1</div>
  <svg class="a" style="left:-9px;top:641.2px" width="18" height="18" viewBox="0 0 24 24"><path d="M9 11a3 3 0 1 0 6 0a3 3 0 0 0-6 0M17.66 16.66L13.41 20.9a2 2 0 0 1-2.83 0l-4.24-4.24a8 8 0 1 1 11.32 0z" fill="none" stroke="#6f6b7d" stroke-width="2"/></svg>
  <div class="a" style="white-space:pre;left:16.6px;top:640.2px;line-height:20px;font-size:12.2px;color:#85828f"><b style="font-weight:normal;-webkit-text-stroke:.35px #6f6b7d;color:#6f6b7d">Zip Code:</b></div>
  <svg class="a" style="left:366px;top:318.4px" width="20" height="20" viewBox="0 0 24 24"><path d="M9 6h11M9 12h11M9 18h11M5 6v.01M5 12v.01M5 18v.01" fill="none" stroke="#5d596c" stroke-width="2" stroke-linecap="round"/></svg>
  <div class="a" style="left:393px;top:316.4px;line-height:24px;font-size:15.7px;color:#5d596c">Recent Activity</div>
  <div class="a" style="left:366.7px;top:387.2px;width:1px;height:23px;background:#e6e5e9"></div>
  <div class="a" style="left:366.7px;top:438.2px;width:1px;height:23px;background:#e6e5e9"></div>
  <div class="a" style="left:366.7px;top:489.2px;width:1px;height:23px;background:#e6e5e9"></div>
  <div class="a" style="left:366.7px;top:540.2px;width:1px;height:23px;background:#e6e5e9"></div>
  <div class="a" style="left:366.7px;top:591.2px;width:1px;height:23px;background:#e6e5e9"></div>
  <div class="a" style="left:366.7px;top:642.2px;width:1px;height:23px;background:#e6e5e9"></div>
  <div class="a" style="left:360.2px;top:366.2px;width:14px;height:14px;border-radius:7px;background:#7a00ff;border:3px solid #efe7ff"></div>
  <div class="a" style="left:393.4px;top:362.2px;line-height:20px;font-size:12.85px;color:#6a6677;-webkit-text-stroke:.3px #6a6677">Logged in</div>
  <div class="a" style="right:21.90000000000009px;top:363.20000000000005px;line-height:20px;font-size:10.8px;color:#b4b2bb">46 seconds ago</div>
  <div class="a" style="left:360.2px;top:417.2px;width:14px;height:14px;border-radius:7px;background:#7a00ff;border:3px solid #efe7ff"></div>
  <div class="a" style="left:393.4px;top:413.2px;line-height:20px;font-size:12.85px;color:#6a6677;-webkit-text-stroke:.3px #6a6677">Logged in</div>
  <div class="a" style="right:21.90000000000009px;top:414.20000000000005px;line-height:20px;font-size:10.8px;color:#b4b2bb">3 weeks ago</div>
  <div class="a" style="left:360.2px;top:468.2px;width:14px;height:14px;border-radius:7px;background:#7a00ff;border:3px solid #efe7ff"></div>
  <div class="a" style="left:393.4px;top:464.2px;line-height:20px;font-size:12.85px;color:#6a6677;-webkit-text-stroke:.3px #6a6677">Logged in</div>
  <div class="a" style="right:21.90000000000009px;top:465.20000000000005px;line-height:20px;font-size:10.8px;color:#b4b2bb">3 weeks ago</div>
  <div class="a" style="left:360.2px;top:519.2px;width:14px;height:14px;border-radius:7px;background:#7a00ff;border:3px solid #efe7ff"></div>
  <div class="a" style="left:393.4px;top:515.2px;line-height:20px;font-size:12.85px;color:#6a6677;-webkit-text-stroke:.3px #6a6677">Update Account Password</div>
  <div class="a" style="right:21.90000000000009px;top:516.2px;line-height:20px;font-size:10.8px;color:#b4b2bb">2 months ago</div>
  <div class="a" style="left:360.2px;top:570.2px;width:14px;height:14px;border-radius:7px;background:#7a00ff;border:3px solid #efe7ff"></div>
  <div class="a" style="left:393.4px;top:566.2px;line-height:20px;font-size:12.85px;color:#6a6677;-webkit-text-stroke:.3px #6a6677">Seen The Account Settings</div>
  <div class="a" style="right:21.90000000000009px;top:567.2px;line-height:20px;font-size:10.8px;color:#b4b2bb">2 months ago</div>
  <div class="a" style="left:360.2px;top:621.2px;width:14px;height:14px;border-radius:7px;background:#7a00ff;border:3px solid #efe7ff"></div>
  <div class="a" style="left:393.4px;top:617.2px;line-height:20px;font-size:12.85px;color:#6a6677;-webkit-text-stroke:.3px #6a6677">Seen The Profile</div>
  <div class="a" style="right:21.90000000000009px;top:618.2px;line-height:20px;font-size:10.8px;color:#b4b2bb">2 months ago</div>
  <div class="a" style="left:360.2px;top:672.2px;width:14px;height:14px;border-radius:7px;background:#7a00ff;border:3px solid #efe7ff"></div>
  <div class="a" style="left:393.4px;top:668.2px;line-height:20px;font-size:12.85px;color:#6a6677;-webkit-text-stroke:.3px #6a6677">Logged in</div>
  <div class="a" style="right:21.90000000000009px;top:669.2px;line-height:20px;font-size:10.8px;color:#b4b2bb">2 months ago</div>
</div>

<!-- ============ BOTTOM RIGHT: permissions ============ -->
<div class="p" id="br">
  <div class="a" style="left:91.79999999999995px;top:32.200000000000045px;line-height:28px;font-size:21px;color:#5d596c;-webkit-text-stroke:.25px #5d596c">Add Permission To Role</div>
  <div class="a" style="left:91.79999999999995px;top:60.39999999999998px;line-height:20px;font-size:14.2px;color:#8b8997">Role: super-admin</div>
  <div class="a" style="left:113px;top:126px;width:17px;height:16px;border-radius:2px;background:#7a00ff"></div>
  <svg class="a" style="left:113px;top:126px" width="17" height="16" viewBox="0 0 17 16"><path d="M5.5 8.2l2.2 2L11.5 6.2" fill="none" stroke="#fff" stroke-width="1.4"/></svg>
  <div class="a" style="left:133.4000000000001px;top:124px;line-height:20px;font-size:14px;color:#8b8997">Select All</div>
  <svg class="a" style="left:113px;top:166.89999999999998px" width="12" height="12" viewBox="0 0 12 12"><rect width="12" height="12" rx="2" fill="#3a32f6"/><path d="M2.8 6.3l2.4 2.4L9.4 3.6" fill="none" stroke="#fff" stroke-width="1.9" stroke-linecap="round" stroke-linejoin="round"/></svg>
  <div class="a" style="left:128.9px;top:163.9px;line-height:20px;font-size:14.5px;color:#8b8997">Roles View</div>
  <svg class="a" style="left:113px;top:186.89999999999998px" width="12" height="12" viewBox="0 0 12 12"><rect width="12" height="12" rx="2" fill="#3a32f6"/><path d="M2.8 6.3l2.4 2.4L9.4 3.6" fill="none" stroke="#fff" stroke-width="1.9" stroke-linecap="round" stroke-linejoin="round"/></svg>
  <div class="a" style="left:128.9px;top:183.9px;line-height:20px;font-size:14.5px;color:#8b8997">Roles Edit</div>
  <svg class="a" style="left:113px;top:206.89999999999998px" width="12" height="12" viewBox="0 0 12 12"><rect width="12" height="12" rx="2" fill="#3a32f6"/><path d="M2.8 6.3l2.4 2.4L9.4 3.6" fill="none" stroke="#fff" stroke-width="1.9" stroke-linecap="round" stroke-linejoin="round"/></svg>
  <div class="a" style="left:128.9px;top:203.9px;line-height:20px;font-size:14.5px;color:#8b8997">User View</div>
  <svg class="a" style="left:113px;top:226.89999999999998px" width="12" height="12" viewBox="0 0 12 12"><rect width="12" height="12" rx="2" fill="#3a32f6"/><path d="M2.8 6.3l2.4 2.4L9.4 3.6" fill="none" stroke="#fff" stroke-width="1.9" stroke-linecap="round" stroke-linejoin="round"/></svg>
  <div class="a" style="left:128.9px;top:223.9px;line-height:20px;font-size:14.5px;color:#8b8997">User Edit</div>
  <svg class="a" style="left:113px;top:246.89999999999998px" width="12" height="12" viewBox="0 0 12 12"><rect width="12" height="12" rx="2" fill="#3a32f6"/><path d="M2.8 6.3l2.4 2.4L9.4 3.6" fill="none" stroke="#fff" stroke-width="1.9" stroke-linecap="round" stroke-linejoin="round"/></svg>
  <div class="a" style="left:128.9px;top:243.9px;line-height:20px;font-size:14.5px;color:#8b8997">Dashboard</div>
  <svg class="a" style="left:113px;top:266.9px" width="12" height="12" viewBox="0 0 12 12"><rect width="12" height="12" rx="2" fill="#3a32f6"/><path d="M2.8 6.3l2.4 2.4L9.4 3.6" fill="none" stroke="#fff" stroke-width="1.9" stroke-linecap="round" stroke-linejoin="round"/></svg>
  <div class="a" style="left:128.9px;top:263.9px;line-height:20px;font-size:14.5px;color:#8b8997">Permissions Create</div>
  <svg class="a" style="left:113px;top:286.9px" width="12" height="12" viewBox="0 0 12 12"><rect width="12" height="12" rx="2" fill="#3a32f6"/><path d="M2.8 6.3l2.4 2.4L9.4 3.6" fill="none" stroke="#fff" stroke-width="1.9" stroke-linecap="round" stroke-linejoin="round"/></svg>
  <div class="a" style="left:128.9px;top:283.9px;line-height:20px;font-size:14.5px;color:#8b8997">Permissions Delete</div>
  <svg class="a" style="left:113px;top:306.9px" width="12" height="12" viewBox="0 0 12 12"><rect width="12" height="12" rx="2" fill="#3a32f6"/><path d="M2.8 6.3l2.4 2.4L9.4 3.6" fill="none" stroke="#fff" stroke-width="1.9" stroke-linecap="round" stroke-linejoin="round"/></svg>
  <div class="a" style="left:128.9px;top:303.9px;line-height:20px;font-size:14.5px;color:#8b8997">Give Permissions To Role</div>
  <svg class="a" style="left:113px;top:326.9px" width="12" height="12" viewBox="0 0 12 12"><rect width="12" height="12" rx="2" fill="#3a32f6"/><path d="M2.8 6.3l2.4 2.4L9.4 3.6" fill="none" stroke="#fff" stroke-width="1.9" stroke-linecap="round" stroke-linejoin="round"/></svg>
  <div class="a" style="left:128.9px;top:323.9px;line-height:20px;font-size:14.5px;color:#8b8997">Create Document Verification</div>
  <svg class="a" style="left:113px;top:346.9px" width="12" height="12" viewBox="0 0 12 12"><rect width="12" height="12" rx="2" fill="#3a32f6"/><path d="M2.8 6.3l2.4 2.4L9.4 3.6" fill="none" stroke="#fff" stroke-width="1.9" stroke-linecap="round" stroke-linejoin="round"/></svg>
  <div class="a" style="left:128.9px;top:343.9px;line-height:20px;font-size:14.5px;color:#8b8997">Edit Document Verification</div>
  <svg class="a" style="left:113px;top:366.9px" width="12" height="12" viewBox="0 0 12 12"><rect width="12" height="12" rx="2" fill="#3a32f6"/><path d="M2.8 6.3l2.4 2.4L9.4 3.6" fill="none" stroke="#fff" stroke-width="1.9" stroke-linecap="round" stroke-linejoin="round"/></svg>
  <div class="a" style="left:128.9px;top:363.9px;line-height:20px;font-size:14.5px;color:#8b8997">Send To Verifier Document Verification</div>
  <svg class="a" style="left:113px;top:386.9px" width="12" height="12" viewBox="0 0 12 12"><rect width="12" height="12" rx="2" fill="#3a32f6"/><path d="M2.8 6.3l2.4 2.4L9.4 3.6" fill="none" stroke="#fff" stroke-width="1.9" stroke-linecap="round" stroke-linejoin="round"/></svg>
  <div class="a" style="left:128.9px;top:383.9px;line-height:20px;font-size:14.5px;color:#8b8997">Reject Document Verification</div>
  <svg class="a" style="left:113px;top:406.9px" width="12" height="12" viewBox="0 0 12 12"><rect width="12" height="12" rx="2" fill="#3a32f6"/><path d="M2.8 6.3l2.4 2.4L9.4 3.6" fill="none" stroke="#fff" stroke-width="1.9" stroke-linecap="round" stroke-linejoin="round"/></svg>
  <div class="a" style="left:128.9px;top:403.9px;line-height:20px;font-size:14.5px;color:#8b8997">Guarantee Type</div>
  <svg class="a" style="left:113px;top:426.9px" width="12" height="12" viewBox="0 0 12 12"><rect width="12" height="12" rx="2" fill="#3a32f6"/><path d="M2.8 6.3l2.4 2.4L9.4 3.6" fill="none" stroke="#fff" stroke-width="1.9" stroke-linecap="round" stroke-linejoin="round"/></svg>
  <div class="a" style="left:128.9px;top:423.9px;line-height:20px;font-size:14.5px;color:#8b8997">View Guarantee Type</div>
  <svg class="a" style="left:113px;top:446.9px" width="12" height="12" viewBox="0 0 12 12"><rect width="12" height="12" rx="2" fill="#3a32f6"/><path d="M2.8 6.3l2.4 2.4L9.4 3.6" fill="none" stroke="#fff" stroke-width="1.9" stroke-linecap="round" stroke-linejoin="round"/></svg>
  <div class="a" style="left:128.9px;top:443.9px;line-height:20px;font-size:14.5px;color:#8b8997">Delete Guarantee Type</div>
  <svg class="a" style="left:113px;top:466.9px" width="12" height="12" viewBox="0 0 12 12"><rect width="12" height="12" rx="2" fill="#3a32f6"/><path d="M2.8 6.3l2.4 2.4L9.4 3.6" fill="none" stroke="#fff" stroke-width="1.9" stroke-linecap="round" stroke-linejoin="round"/></svg>
  <div class="a" style="left:128.9px;top:463.9px;line-height:20px;font-size:14.5px;color:#8b8997">Download Applications</div>
  <svg class="a" style="left:113px;top:486.9000000000001px" width="12" height="12" viewBox="0 0 12 12"><rect width="12" height="12" rx="2" fill="#3a32f6"/><path d="M2.8 6.3l2.4 2.4L9.4 3.6" fill="none" stroke="#fff" stroke-width="1.9" stroke-linecap="round" stroke-linejoin="round"/></svg>
  <div class="a" style="left:128.9px;top:483.9px;line-height:20px;font-size:14.5px;color:#8b8997">Update Application</div>
  <svg class="a" style="left:113px;top:506.9000000000001px" width="12" height="12" viewBox="0 0 12 12"><rect width="12" height="12" rx="2" fill="#3a32f6"/><path d="M2.8 6.3l2.4 2.4L9.4 3.6" fill="none" stroke="#fff" stroke-width="1.9" stroke-linecap="round" stroke-linejoin="round"/></svg>
  <div class="a" style="left:128.9px;top:503.9px;line-height:20px;font-size:14.5px;color:#8b8997">View Under Verification Applications</div>
  <svg class="a" style="left:113px;top:526.9000000000001px" width="12" height="12" viewBox="0 0 12 12"><rect width="12" height="12" rx="2" fill="#3a32f6"/><path d="M2.8 6.3l2.4 2.4L9.4 3.6" fill="none" stroke="#fff" stroke-width="1.9" stroke-linecap="round" stroke-linejoin="round"/></svg>
  <div class="a" style="left:128.9px;top:523.9px;line-height:20px;font-size:14.5px;color:#8b8997">Approve Applications</div>
  <svg class="a" style="left:113px;top:546.9000000000001px" width="12" height="12" viewBox="0 0 12 12"><rect width="12" height="12" rx="2" fill="#3a32f6"/><path d="M2.8 6.3l2.4 2.4L9.4 3.6" fill="none" stroke="#fff" stroke-width="1.9" stroke-linecap="round" stroke-linejoin="round"/></svg>
  <div class="a" style="left:128.9px;top:543.9px;line-height:20px;font-size:14.5px;color:#8b8997">Add CBS Number</div>
  <svg class="a" style="left:113px;top:566.9000000000001px" width="12" height="12" viewBox="0 0 12 12"><rect width="12" height="12" rx="2" fill="#3a32f6"/><path d="M2.8 6.3l2.4 2.4L9.4 3.6" fill="none" stroke="#fff" stroke-width="1.9" stroke-linecap="round" stroke-linejoin="round"/></svg>
  <div class="a" style="left:128.9px;top:563.9px;line-height:20px;font-size:14.5px;color:#8b8997">View Account Services</div>
  <svg class="a" style="left:113px;top:586.9000000000001px" width="12" height="12" viewBox="0 0 12 12"><rect width="12" height="12" rx="2" fill="#3a32f6"/><path d="M2.8 6.3l2.4 2.4L9.4 3.6" fill="none" stroke="#fff" stroke-width="1.9" stroke-linecap="round" stroke-linejoin="round"/></svg>
  <div class="a" style="left:128.9px;top:583.9px;line-height:20px;font-size:14.5px;color:#8b8997">Send For Verification</div>
  <svg class="a" style="left:578px;top:166.89999999999998px" width="12" height="12" viewBox="0 0 12 12"><rect width="12" height="12" rx="2" fill="#3a32f6"/><path d="M2.8 6.3l2.4 2.4L9.4 3.6" fill="none" stroke="#fff" stroke-width="1.9" stroke-linecap="round" stroke-linejoin="round"/></svg>
  <div class="a" style="left:593.0px;top:163.9px;line-height:20px;font-size:14.5px;color:#8b8997">Roles Create</div>
  <svg class="a" style="left:578px;top:186.89999999999998px" width="12" height="12" viewBox="0 0 12 12"><rect width="12" height="12" rx="2" fill="#3a32f6"/><path d="M2.8 6.3l2.4 2.4L9.4 3.6" fill="none" stroke="#fff" stroke-width="1.9" stroke-linecap="round" stroke-linejoin="round"/></svg>
  <div class="a" style="left:593.0px;top:183.9px;line-height:20px;font-size:14.5px;color:#8b8997">Role Delete</div>
  <svg class="a" style="left:578px;top:206.89999999999998px" width="12" height="12" viewBox="0 0 12 12"><rect width="12" height="12" rx="2" fill="#3a32f6"/><path d="M2.8 6.3l2.4 2.4L9.4 3.6" fill="none" stroke="#fff" stroke-width="1.9" stroke-linecap="round" stroke-linejoin="round"/></svg>
  <div class="a" style="left:593.0px;top:203.9px;line-height:20px;font-size:14.5px;color:#8b8997">User Add</div>
  <svg class="a" style="left:578px;top:226.89999999999998px" width="12" height="12" viewBox="0 0 12 12"><rect width="12" height="12" rx="2" fill="#3a32f6"/><path d="M2.8 6.3l2.4 2.4L9.4 3.6" fill="none" stroke="#fff" stroke-width="1.9" stroke-linecap="round" stroke-linejoin="round"/></svg>
  <div class="a" style="left:593.0px;top:223.9px;line-height:20px;font-size:14.5px;color:#8b8997">User Delete</div>
  <svg class="a" style="left:578px;top:246.89999999999998px" width="12" height="12" viewBox="0 0 12 12"><rect width="12" height="12" rx="2" fill="#3a32f6"/><path d="M2.8 6.3l2.4 2.4L9.4 3.6" fill="none" stroke="#fff" stroke-width="1.9" stroke-linecap="round" stroke-linejoin="round"/></svg>
  <div class="a" style="left:593.0px;top:243.9px;line-height:20px;font-size:14.5px;color:#8b8997">Permissions View</div>
  <svg class="a" style="left:578px;top:266.9px" width="12" height="12" viewBox="0 0 12 12"><rect width="12" height="12" rx="2" fill="#3a32f6"/><path d="M2.8 6.3l2.4 2.4L9.4 3.6" fill="none" stroke="#fff" stroke-width="1.9" stroke-linecap="round" stroke-linejoin="round"/></svg>
  <div class="a" style="left:593.0px;top:263.9px;line-height:20px;font-size:14.5px;color:#8b8997">Permissions Edit</div>
  <svg class="a" style="left:578px;top:286.9px" width="12" height="12" viewBox="0 0 12 12"><rect width="12" height="12" rx="2" fill="#3a32f6"/><path d="M2.8 6.3l2.4 2.4L9.4 3.6" fill="none" stroke="#fff" stroke-width="1.9" stroke-linecap="round" stroke-linejoin="round"/></svg>
  <div class="a" style="left:593.0px;top:283.9px;line-height:20px;font-size:14.5px;color:#8b8997">Add Permissions To Role</div>
  <svg class="a" style="left:578px;top:306.9px" width="12" height="12" viewBox="0 0 12 12"><rect width="12" height="12" rx="2" fill="#3a32f6"/><path d="M2.8 6.3l2.4 2.4L9.4 3.6" fill="none" stroke="#fff" stroke-width="1.9" stroke-linecap="round" stroke-linejoin="round"/></svg>
  <div class="a" style="left:593.0px;top:303.9px;line-height:20px;font-size:14.5px;color:#8b8997">Document Verification</div>
  <svg class="a" style="left:578px;top:326.9px" width="12" height="12" viewBox="0 0 12 12"><rect width="12" height="12" rx="2" fill="#3a32f6"/><path d="M2.8 6.3l2.4 2.4L9.4 3.6" fill="none" stroke="#fff" stroke-width="1.9" stroke-linecap="round" stroke-linejoin="round"/></svg>
  <div class="a" style="left:593.0px;top:323.9px;line-height:20px;font-size:14.5px;color:#8b8997">View Document Verification</div>
  <svg class="a" style="left:578px;top:346.9px" width="12" height="12" viewBox="0 0 12 12"><rect width="12" height="12" rx="2" fill="#3a32f6"/><path d="M2.8 6.3l2.4 2.4L9.4 3.6" fill="none" stroke="#fff" stroke-width="1.9" stroke-linecap="round" stroke-linejoin="round"/></svg>
  <div class="a" style="left:593.0px;top:343.9px;line-height:20px;font-size:14.5px;color:#8b8997">Delete Document Verification</div>
  <svg class="a" style="left:578px;top:366.9px" width="12" height="12" viewBox="0 0 12 12"><rect width="12" height="12" rx="2" fill="#3a32f6"/><path d="M2.8 6.3l2.4 2.4L9.4 3.6" fill="none" stroke="#fff" stroke-width="1.9" stroke-linecap="round" stroke-linejoin="round"/></svg>
  <div class="a" style="left:593.0px;top:363.9px;line-height:20px;font-size:14.5px;color:#8b8997">Approve Document Verification</div>
  <svg class="a" style="left:578px;top:386.9px" width="12" height="12" viewBox="0 0 12 12"><rect width="12" height="12" rx="2" fill="#3a32f6"/><path d="M2.8 6.3l2.4 2.4L9.4 3.6" fill="none" stroke="#fff" stroke-width="1.9" stroke-linecap="round" stroke-linejoin="round"/></svg>
  <div class="a" style="left:593.0px;top:383.9px;line-height:20px;font-size:14.5px;color:#8b8997">Send Back Document Verification</div>
  <svg class="a" style="left:578px;top:406.9px" width="12" height="12" viewBox="0 0 12 12"><rect width="12" height="12" rx="2" fill="#3a32f6"/><path d="M2.8 6.3l2.4 2.4L9.4 3.6" fill="none" stroke="#fff" stroke-width="1.9" stroke-linecap="round" stroke-linejoin="round"/></svg>
  <div class="a" style="left:593.0px;top:403.9px;line-height:20px;font-size:14.5px;color:#8b8997">Create Guarantee Type</div>
  <svg class="a" style="left:578px;top:426.9px" width="12" height="12" viewBox="0 0 12 12"><rect width="12" height="12" rx="2" fill="#3a32f6"/><path d="M2.8 6.3l2.4 2.4L9.4 3.6" fill="none" stroke="#fff" stroke-width="1.9" stroke-linecap="round" stroke-linejoin="round"/></svg>
  <div class="a" style="left:593.0px;top:423.9px;line-height:20px;font-size:14.5px;color:#8b8997">Edit Guarantee Type</div>
  <svg class="a" style="left:578px;top:446.9px" width="12" height="12" viewBox="0 0 12 12"><rect width="12" height="12" rx="2" fill="#3a32f6"/><path d="M2.8 6.3l2.4 2.4L9.4 3.6" fill="none" stroke="#fff" stroke-width="1.9" stroke-linecap="round" stroke-linejoin="round"/></svg>
  <div class="a" style="left:593.0px;top:443.9px;line-height:20px;font-size:14.5px;color:#8b8997">View Application</div>
  <svg class="a" style="left:578px;top:466.9px" width="12" height="12" viewBox="0 0 12 12"><rect width="12" height="12" rx="2" fill="#3a32f6"/><path d="M2.8 6.3l2.4 2.4L9.4 3.6" fill="none" stroke="#fff" stroke-width="1.9" stroke-linecap="round" stroke-linejoin="round"/></svg>
  <div class="a" style="left:593.0px;top:463.9px;line-height:20px;font-size:14.5px;color:#8b8997">Delete Application</div>
  <svg class="a" style="left:578px;top:486.9000000000001px" width="12" height="12" viewBox="0 0 12 12"><rect width="12" height="12" rx="2" fill="#3a32f6"/><path d="M2.8 6.3l2.4 2.4L9.4 3.6" fill="none" stroke="#fff" stroke-width="1.9" stroke-linecap="round" stroke-linejoin="round"/></svg>
  <div class="a" style="left:593.0px;top:483.9px;line-height:20px;font-size:14.5px;color:#8b8997">View Pending Applications</div>
  <svg class="a" style="left:578px;top:506.9000000000001px" width="12" height="12" viewBox="0 0 12 12"><rect width="12" height="12" rx="2" fill="#3a32f6"/><path d="M2.8 6.3l2.4 2.4L9.4 3.6" fill="none" stroke="#fff" stroke-width="1.9" stroke-linecap="round" stroke-linejoin="round"/></svg>
  <div class="a" style="left:593.0px;top:503.9px;line-height:20px;font-size:14.5px;color:#8b8997">View Verified Applications</div>
  <svg class="a" style="left:578px;top:526.9000000000001px" width="12" height="12" viewBox="0 0 12 12"><rect width="12" height="12" rx="2" fill="#3a32f6"/><path d="M2.8 6.3l2.4 2.4L9.4 3.6" fill="none" stroke="#fff" stroke-width="1.9" stroke-linecap="round" stroke-linejoin="round"/></svg>
  <div class="a" style="left:593.0px;top:523.9px;line-height:20px;font-size:14.5px;color:#8b8997">Reject Applications</div>
  <svg class="a" style="left:578px;top:546.9000000000001px" width="12" height="12" viewBox="0 0 12 12"><rect width="12" height="12" rx="2" fill="#3a32f6"/><path d="M2.8 6.3l2.4 2.4L9.4 3.6" fill="none" stroke="#fff" stroke-width="1.9" stroke-linecap="round" stroke-linejoin="round"/></svg>
  <div class="a" style="left:593.0px;top:543.9px;line-height:20px;font-size:14.5px;color:#8b8997">View Saving Accounts</div>
  <svg class="a" style="left:578px;top:566.9000000000001px" width="12" height="12" viewBox="0 0 12 12"><rect width="12" height="12" rx="2" fill="#3a32f6"/><path d="M2.8 6.3l2.4 2.4L9.4 3.6" fill="none" stroke="#fff" stroke-width="1.9" stroke-linecap="round" stroke-linejoin="round"/></svg>
  <div class="a" style="left:593.0px;top:563.9px;line-height:20px;font-size:14.5px;color:#8b8997">Export To Excel</div>
  <svg class="a" style="left:578px;top:586.9000000000001px" width="12" height="12" viewBox="0 0 12 12"><rect width="12" height="12" rx="2" fill="#3a32f6"/><path d="M2.8 6.3l2.4 2.4L9.4 3.6" fill="none" stroke="#fff" stroke-width="1.9" stroke-linecap="round" stroke-linejoin="round"/></svg>
  <div class="a" style="left:593.0px;top:583.9px;line-height:20px;font-size:14.5px;color:#8b8997">View/Modify Country</div>
</div>

</body></html>
